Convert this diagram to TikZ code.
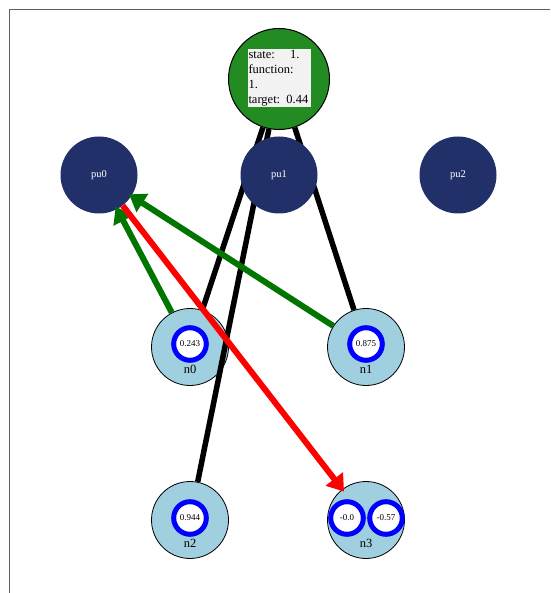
\documentclass[tikz,border=0pt]{standalone}
\usepackage{fontspec}
\setmainfont{Liberation Serif}
\usepackage{xcolor}
\usepackage{tikz}
\usetikzlibrary{shapes,arrows.meta,positioning,calc}

\definecolor{rootgreen}{RGB}{34,139,34}
\definecolor{punavy}{RGB}{33,48,105}
\definecolor{leafblue}{RGB}{160,207,224}
\definecolor{flowgreen}{RGB}{0,118,0}
\definecolor{framegray}{RGB}{95,95,95}
\definecolor{infogray}{RGB}{242,242,242}

\tikzset{
    rootnode/.style={circle, draw=black, line width=1pt, fill=rootgreen, minimum size=101pt, inner sep=0pt},
    infobox/.style={fill=infogray, text width=61pt, inner sep=1pt, align=left, font=\fontsize{12.5}{15}\selectfont},
    punode/.style={circle, fill=punavy, minimum size=77pt, inner sep=0pt, text=white, font=\fontsize{10.5}{12}\selectfont},
    leaf/.style={circle, draw=black, line width=0.8pt, fill=leafblue, minimum size=77pt, inner sep=0pt},
    ring/.style={circle, draw=blue, line width=5pt, fill=white, minimum size=32.6pt, inner sep=0pt, font=\fontsize{9}{10}\selectfont},
    leaflabel/.style={inner sep=0pt, font=\fontsize{12.5}{14}\selectfont},
    link/.style={black, line width=5.5pt},
    flow/.style={line width=6pt, -{Triangle[length=16pt,width=21pt]}, shorten >=-3pt}
}

\begin{document}
\begin{tikzpicture}[x=1pt, y=-1pt]
    \useasboundingbox (0,0) rectangle (550,593);
    % Frame
    \draw[framegray, line width=1pt] (9,593) -- (9,10) -- (550,10);

    % Root node with its state
    \node[rootnode] (tgt) at (279,79) {};
    \node[infobox] (tgtinfo) at (279,78) {state:\hspace{9pt} 1.\\function:\\1.\\target: 0.44};

    % Leaf nodes
    \node[leaf] (n0) at (190,347) {};
    \node[ring] (n0r) at (190,344) {0.243};
    \node[leaflabel] (n0l) at (190,369) {n0};

    \node[leaf] (n1) at (366,347) {};
    \node[ring] (n1r) at (366,344) {0.875};
    \node[leaflabel] (n1l) at (366,369) {n1};

    \node[leaf] (n2) at (190,520) {};
    \node[ring] (n2r) at (190,518) {0.944};
    \node[leaflabel] (n2l) at (190,543) {n2};

    \node[leaf] (n3) at (366,520) {};
    \node[ring] (n3a) at (347,518) {-0.0};
    \node[ring] (n3b) at (386,518) {-0.57};
    \node[leaflabel] (n3l) at (366,543) {n3};

    % Tree links
    \draw[link] (tgt) -- (n0);
    \draw[link] (tgt) -- (n1);
    \draw[link] (tgt) -- (n2);

    % Processing units
    \node[punode] (pu0) at (99,175) {pu0};
    \node[punode] (pu1) at (279,175) {pu1};
    \node[punode] (pu2) at (458,175) {pu2};

    % Flows
    \draw[flow, flowgreen] (n0) -- (pu0);
    \draw[flow, flowgreen] (n1) -- (pu0);
    \draw[flow, red] (pu0) -- (n3);
\end{tikzpicture}
\end{document}
